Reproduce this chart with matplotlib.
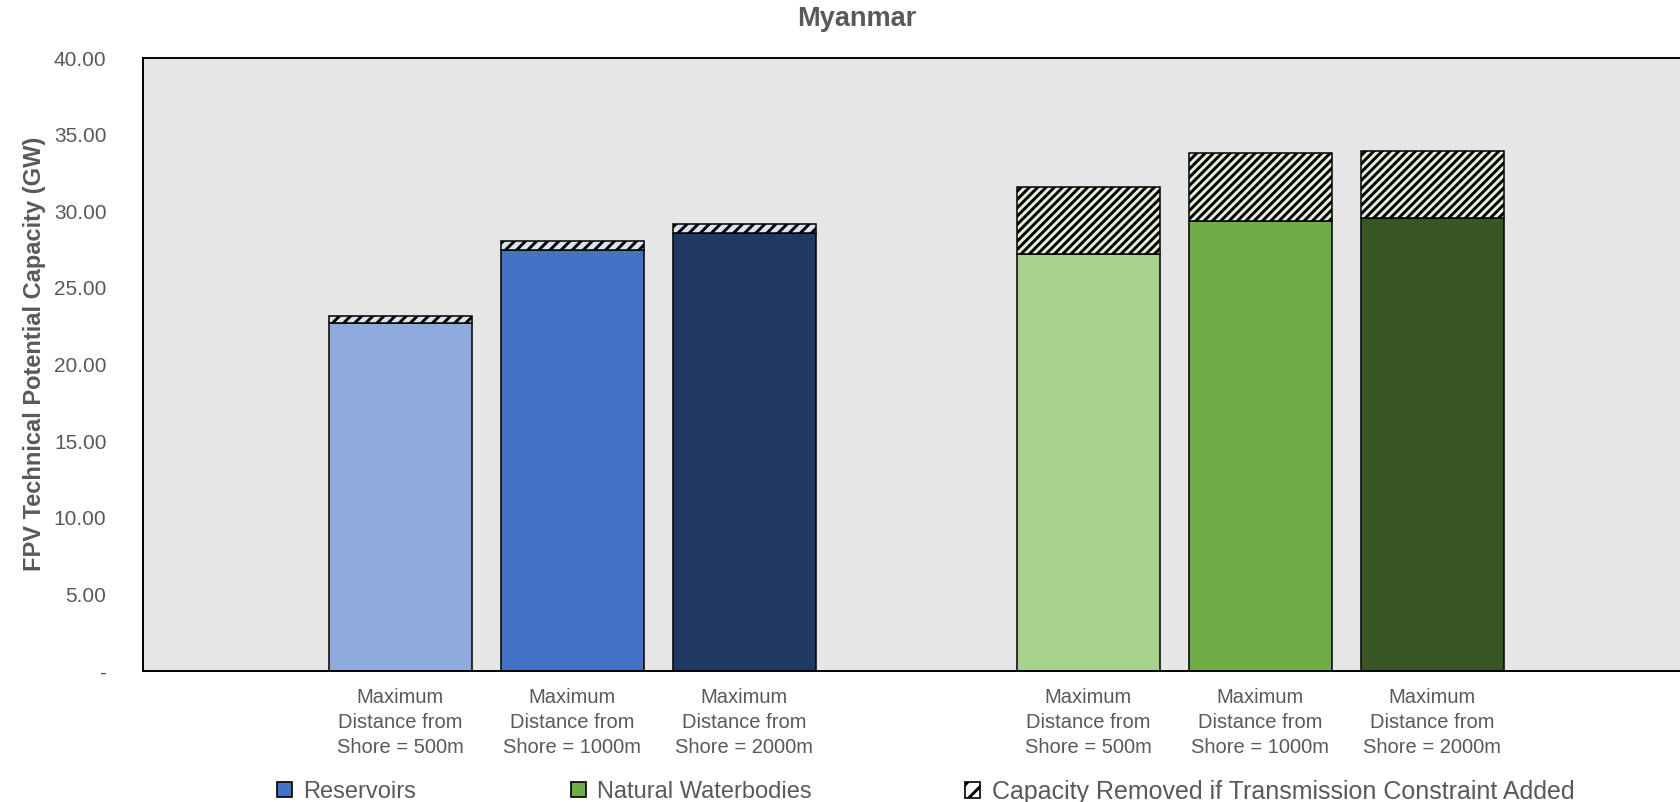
import matplotlib
matplotlib.use("Agg")
import matplotlib.pyplot as plt
from matplotlib.patches import Patch

# ---- data (GW) ----
categories = ["Maximum\nDistance from\nShore = 500m",
              "Maximum\nDistance from\nShore = 1000m",
              "Maximum\nDistance from\nShore = 2000m"]
reservoirs = [22.70, 27.47, 28.60]
reservoirs_removed = [0.46, 0.59, 0.57]
natural = [27.19, 29.38, 29.58]
natural_removed = [4.37, 4.44, 4.37]
y_ticks = [0, 5, 10, 15, 20, 25, 30, 35, 40]

# ---- style ----
plt.rcParams["font.family"] = ["Liberation Sans", "DejaVu Sans"]
plt.rcParams["hatch.linewidth"] = 2.1
grey = "#595959"
res_colors = ["#8FAADC", "#4472C4", "#203864"]
nat_colors = ["#A9D18E", "#70AD47", "#385723"]
res_hatch_bg = "#DAE3F3"
nat_hatch_bg = "#E2F0D9"

W, H = 1680, 802
fig = plt.figure(figsize=(W / 100, H / 100), dpi=100)
# category axis: one empty slot on each side and one between the groups;
# the right-hand end of the axis runs past the canvas edge
slot_px = 172
ax_left, ax_top, ax_bottom = 142.5, 58, 671
ax = fig.add_axes([ax_left / W, 1 - ax_bottom / H, 9 * slot_px / W,
                   (ax_bottom - ax_top) / H])
ax.set_facecolor("#E6E6E6")

res_x = [0, 1, 2]
nat_x = [4, 5, 6]
bar_w = 0.83

for x, base, rem, c in zip(res_x, reservoirs, reservoirs_removed, res_colors):
    ax.bar(x, base, width=bar_w, color=c, edgecolor="black", linewidth=1.1)
    ax.bar(x, rem, bottom=base, width=bar_w, facecolor=res_hatch_bg,
           edgecolor="black", hatch="///", linewidth=1.1)

for x, base, rem, c in zip(nat_x, natural, natural_removed, nat_colors):
    ax.bar(x, base, width=bar_w, color=c, edgecolor="black", linewidth=1.1)
    ax.bar(x, rem, bottom=base, width=bar_w, facecolor=nat_hatch_bg,
           edgecolor="black", hatch="////", linewidth=1.1)

ax.set_xlim(-1.5, 7.5)
ax.set_ylim(0, 40)
ax.set_yticks(y_ticks)
ax.set_yticklabels(["-" if v == 0 else f"{v:.2f}" for v in y_ticks],
                   fontsize=15, color=grey)
ax.set_xticks(res_x + nat_x)
ax.set_xticklabels(categories * 2, fontsize=14.5, color=grey, linespacing=1.4)
ax.tick_params(axis="both", length=0)
ax.tick_params(axis="y", pad=26)
ax.tick_params(axis="x", pad=12)

for side in ["left", "top", "bottom"]:
    ax.spines[side].set_linewidth(1.4)
    ax.spines[side].set_color("black")
ax.spines["right"].set_visible(False)

ax.set_ylabel("FPV Technical Potential Capacity (GW)", fontsize=17,
              fontweight="bold", color=grey, va="center")
ax.yaxis.set_label_coords(-(ax_left - 35) / (9 * slot_px), 0.518)

fig.text(857 / W, 1 - 19 / H, "Myanmar", fontsize=19.5, fontweight="bold",
         color=grey, ha="center", va="center")

# ---- legend ----
entries = [
    (Patch(facecolor="#4472C4", edgecolor="black", linewidth=1.2), "Reservoirs", 277, 17),
    (Patch(facecolor="#70AD47", edgecolor="black", linewidth=1.2), "Natural Waterbodies", 571, 17),
    (Patch(facecolor="white", edgecolor="black", hatch="//", linewidth=1.2),
     "Capacity Removed if Transmission Constraint Added", 965, 18),
]
for handle, label, xpx, fs in entries:
    fig.legend([handle], [label], loc="center left",
               bbox_to_anchor=(xpx / W, 1 - 792 / H),
               frameon=False, fontsize=fs, handlelength=0.62 * 17 / fs,
               handleheight=0.62 * 17 / fs,
               handletextpad=0.5, borderpad=0, borderaxespad=0,
               labelcolor=grey)

fig.savefig("out.png", dpi=100)
